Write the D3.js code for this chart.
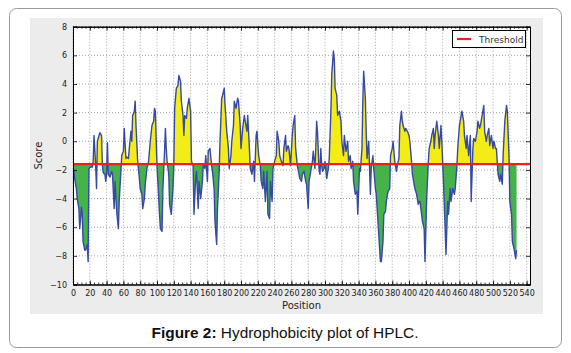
<!DOCTYPE html>
<html>
<head>
<meta charset="utf-8">
<script src="https://cdn.jsdelivr.net/npm/d3@7"></script>
<style>
  body { margin:0; background:#fff; }
  svg { display:block; }
</style>
</head>
<body>
<svg id="holder" width="571" height="353"></svg>
<script>
// hydrophobicity profile: residue position and score
var positions=[1,2,4,5,7,8,10,11,12,14,15,17,18,19,21,23,24,25,27,28,29,31,32,34,35,36,38,39,40,41,42,44,46,47,49,50,52,54,55,57,58,60,61,63,64,66,67,69,70,71,73,74,75,77,79,80,82,83,85,86,88,90,92,94,96,97,98,100,101,103,104,106,107,109,110,111,112,114,115,117,119,120,121,123,125,126,128,129,131,132,133,135,136,138,
  140,141,143,144,146,147,149,150,152,154,155,157,158,160,161,163,165,166,168,169,171,172,174,175,177,178,180,181,183,185,186,188,189,191,192,194,196,197,199,200,202,204,205,207,208,210,211,213,215,216,218,219,221,223,224,226,227,229,231,232,234,235,237,238,240,242,243,245,246,248,250,251,253,254,256,257,259,261,262,264,265,267,269,270,272,273,275,277,278,280,281,
  283,285,286,288,289,290,291,293,294,295,296,297,299,300,302,304,305,307,308,310,311,312,314,315,317,319,320,322,323,325,327,328,330,331,333,334,336,338,339,341,342,344,345,346,348,349,350,352,354,355,357,358,360,361,363,365,366,367,369,370,372,373,375,377,378,380,381,383,385,386,388,389,391,392,393,395,396,398,400,401,403,404,406,407,409,411,412,
  413,415,416,418,419,421,423,424,426,427,429,430,431,433,435,436,438,439,441,443,444,446,447,449,450,452,454,455,457,458,460,462,463,465,466,468,469,471,473,474,476,477,479,481,482,484,485,487,489,490,492,493,495,496,498,500,501,503,504,506,508,509,511,512,514,516,517,519,520,522,523,525,527,528];
var scores=[-2.0,-2.6,-3.3,-4.0,-4.7,-6.1,-4.6,-5.1,-7.0,-7.6,-7.6,-7.2,-8.4,-1.9,-1.8,-1.8,-1.4,0.4,-1.7,-3.3,0.0,0.4,0.6,0.4,-1.7,-2.2,-2.3,-2.8,-2.3,-0.1,-2.3,-2.5,-2.1,-2.3,-4.7,-2.8,-4.9,-6.1,-4.2,-2.1,-1.0,-0.7,0.9,-1.2,-1.1,-1.2,-0.5,0.7,0.0,1.8,2.1,2.8,1.1,-1.4,-2.6,-3.3,-3.7,-4.7,-4.0,-3.0,-1.9,-1.4,0.0,1.1,1.4,2.3,2.1,-1.7,-2.8,-5.1,-6.1,-6.3,-3.3,-0.7,0.9,-0.5,-1.4,-2.3,-4.4,-5.1,-3.3,-1.7,2.3,3.7,3.9,4.6,4.2,2.8,1.8,0.4,1.8,1.6,2.3,3.0,
  2.1,-1.4,-1.7,-5.1,-2.6,-2.1,-4.7,-2.8,-4.0,-2.8,-1.7,-1.9,-1.0,-2.8,-0.7,-0.5,-1.7,-2.1,-3.3,-5.6,-7.2,-4.7,-2.1,0.0,3.0,3.2,3.7,2.5,0.7,-0.5,-1.9,-1.0,0.0,1.1,2.8,2.3,3.0,2.8,1.1,-0.5,0.9,1.8,1.4,0.7,1.8,-0.5,-1.9,-2.3,-1.4,-2.8,0.4,0.7,-1.0,-1.7,-2.8,-3.3,-2.1,-4.2,-2.1,-5.1,-5.4,-2.8,-4.2,-1.9,-1.4,-1.0,0.7,0.0,-1.0,-1.4,-1.7,-0.5,0.4,-0.7,-0.3,-0.5,-1.7,0.4,1.1,1.8,-0.5,-1.7,-2.3,-2.6,-2.8,-2.3,-2.1,-2.8,-3.0,-4.7,-2.8,
  -2.1,-1.4,-0.7,-1.9,-0.5,1.4,0.7,-2.1,-2.3,-0.5,-1.7,-2.1,-1.9,-1.4,-2.6,-1.9,-1.2,2.1,4.6,6.3,5.8,3.7,3.2,1.8,2.1,1.4,0.0,-1.0,0.4,-0.7,0.0,-1.4,-1.0,-1.9,-1.4,-2.8,-3.7,-3.5,-5.1,-1.9,-2.1,-0.5,2.8,4.9,3.0,0.7,-1.2,0.0,-3.7,-1.9,-1.0,-1.9,-3.3,-3.7,-5.6,-7.5,-8.4,-8.4,-7.0,-5.1,-4.9,-4.2,-3.5,-3.3,-1.0,-0.5,0.0,-1.4,-2.1,-1.7,-1.2,1.1,2.1,1.4,1.1,0.7,0.9,0.7,0.4,0.0,-1.4,-2.3,-3.0,-3.3,-3.7,-4.4,-4.2,
  -4.2,-5.1,-5.6,-6.1,-8.4,-4.0,-1.4,-0.5,0.0,0.4,0.9,-0.5,0.4,1.4,0.4,-0.5,1.1,0.0,-2.8,-6.1,-7.9,-4.2,-5.1,-3.3,-4.2,-3.3,-3.7,-3.3,-1.7,-0.5,1.1,1.8,2.1,1.4,0.4,-0.5,0.4,-1.0,0.4,-4.2,-0.5,0.2,0.0,0.7,1.4,0.9,1.1,1.8,2.5,0.7,0.0,0.4,0.9,-0.3,0.4,-0.5,0.0,-0.5,-0.5,-2.3,-2.8,-2.3,-3.0,-1.0,1.4,2.5,2.1,-1.0,-4.2,-5.1,-7.0,-7.5,-8.2,-7.6];
var threshold=-1.6;
var xTicks=d3.range(0,541,20);
var xMinorTicks=d3.range(0,541,5);
var yTicks=d3.range(-10,9,2);

var svg=d3.select('#holder');

// outer frame and grey figure background
svg.append('rect').attr('x',9.5).attr('y',8.5).attr('width',552).attr('height',339)
  .attr('rx',7).attr('fill','#fff').attr('stroke','#9a9a9a').attr('stroke-width',1);
svg.append('rect').attr('x',30).attr('y',18).attr('width',513).attr('height',296).attr('fill','#ececec');

var pad_left=73, pad_right=530, pad_top=26.7, pad_bottom=284.5;
var xscale=d3.scaleLinear().domain([0,544]).range([pad_left,pad_right]);
var yscale=d3.scaleLinear().domain([-10,8]).range([pad_bottom,pad_top]);

svg.append('rect').attr('x',pad_left).attr('y',pad_top).attr('width',pad_right-pad_left).attr('height',pad_bottom-pad_top).attr('fill','#fff');

var gg=svg.append('g');

// dotted grid
gg.selectAll('.gx').data(xTicks).enter().append('line')
  .attr('x1',function(d){return xscale(d);}).attr('x2',function(d){return xscale(d);})
  .attr('y1',pad_top).attr('y2',pad_bottom)
  .attr('stroke','#666').attr('stroke-width',0.6).attr('stroke-dasharray','1,2');
gg.selectAll('.gy').data(yTicks).enter().append('line')
  .attr('y1',function(d){return yscale(d);}).attr('y2',function(d){return yscale(d);})
  .attr('x1',pad_left).attr('x2',pad_right)
  .attr('stroke','#666').attr('stroke-width',0.6).attr('stroke-dasharray','1,2');

var data=positions.map(function(p,i){return {x:p,y:scores[i]};});
var ythr=yscale(threshold);

var defs=svg.append('defs');
defs.append('clipPath').attr('id','above').append('rect')
  .attr('x',pad_left).attr('y',pad_top).attr('width',pad_right-pad_left).attr('height',ythr-pad_top);
defs.append('clipPath').attr('id','below').append('rect')
  .attr('x',pad_left).attr('y',ythr).attr('width',pad_right-pad_left).attr('height',pad_bottom-ythr);

var area=d3.area()
  .x(function(d){return xscale(d.x);})
  .y0(ythr)
  .y1(function(d){return yscale(d.y);});
gg.append('path').attr('d',area(data)).attr('fill','#f4ec17').attr('clip-path','url(#above)');
gg.append('path').attr('d',area(data)).attr('fill','#45b24a').attr('clip-path','url(#below)');

var line=d3.line()
  .x(function(d){return xscale(d.x);})
  .y(function(d){return yscale(d.y);});
gg.append('path').attr('d',line(data))
  .attr('fill','none').attr('stroke','#3649a4').attr('stroke-width',1.4).attr('stroke-linejoin','round');

// threshold line
gg.append('line').attr('x1',pad_left).attr('x2',pad_right).attr('y1',ythr).attr('y2',ythr)
  .attr('stroke','#e8211f').attr('stroke-width',2.2);

// axes with inward ticks on all sides
var axB=d3.axisBottom(xscale).tickValues(xTicks).tickSize(-4).tickPadding(6).tickFormat(d3.format('d'));
var axBm=d3.axisBottom(xscale).tickValues(xMinorTicks).tickSize(-2).tickFormat('');
var axT=d3.axisTop(xscale).tickValues(xTicks).tickSize(-4).tickFormat('');
var axTm=d3.axisTop(xscale).tickValues(xMinorTicks).tickSize(-2).tickFormat('');
var axL=d3.axisLeft(yscale).tickValues(yTicks).tickSize(-4).tickPadding(6).tickFormat(function(d){return d<0?'\u2212'+(-d):d;});
var axR=d3.axisRight(yscale).tickValues(yTicks).tickSize(-4).tickFormat('');

svg.append('g').attr('class','axis').attr('transform','translate(0,'+pad_bottom+')').call(axBm);
svg.append('g').attr('class','axis').attr('transform','translate(0,'+pad_bottom+')').call(axB);
svg.append('g').attr('class','axis').attr('transform','translate(0,'+pad_top+')').call(axTm);
svg.append('g').attr('class','axis').attr('transform','translate(0,'+pad_top+')').call(axT);
svg.append('g').attr('class','axis').attr('transform','translate('+pad_left+',0)').call(axL);
svg.append('g').attr('class','axis').attr('transform','translate('+pad_right+',0)').call(axR);

svg.selectAll('.axis path').attr('stroke','#000').attr('stroke-width',1);
svg.selectAll('.axis line').attr('stroke','#000').attr('stroke-width',0.8);
svg.selectAll('.axis text').attr('fill','#222').style('font-family','DejaVu Sans').style('font-size','8px');

// axis labels
svg.append('text').attr('x',(pad_left+pad_right)/2).attr('y',309).attr('text-anchor','middle')
  .style('font-family','DejaVu Sans').style('font-size','10px').attr('fill','#222').text('Position');
svg.append('text').attr('transform','translate(42,'+((pad_top+pad_bottom)/2)+') rotate(-90)').attr('text-anchor','middle')
  .style('font-family','DejaVu Sans').style('font-size','10px').attr('fill','#222').text('Score');

// legend
var lg=svg.append('g');
lg.append('rect').attr('x',452.5).attr('y',30.5).attr('width',73).attr('height',17)
  .attr('fill','#fff').attr('stroke','#000').attr('stroke-width',1);
lg.append('line').attr('x1',457).attr('x2',471).attr('y1',39).attr('y2',39).attr('stroke','#e8211f').attr('stroke-width',2.2);
lg.append('text').attr('x',479).attr('y',42.5).style('font-family','DejaVu Sans').style('font-size','9px')
  .attr('fill','#333').text('Threshold');

// caption
var cap=svg.append('text').attr('x',285).attr('y',338).attr('text-anchor','middle')
  .style('font-family','Liberation Sans, Arial, sans-serif').style('font-size','15.4px').attr('fill','#111');
cap.append('tspan').style('font-weight','bold').text('Figure 2:');
cap.append('tspan').text(' Hydrophobicity plot of HPLC.');
</script>
</body>
</html>
